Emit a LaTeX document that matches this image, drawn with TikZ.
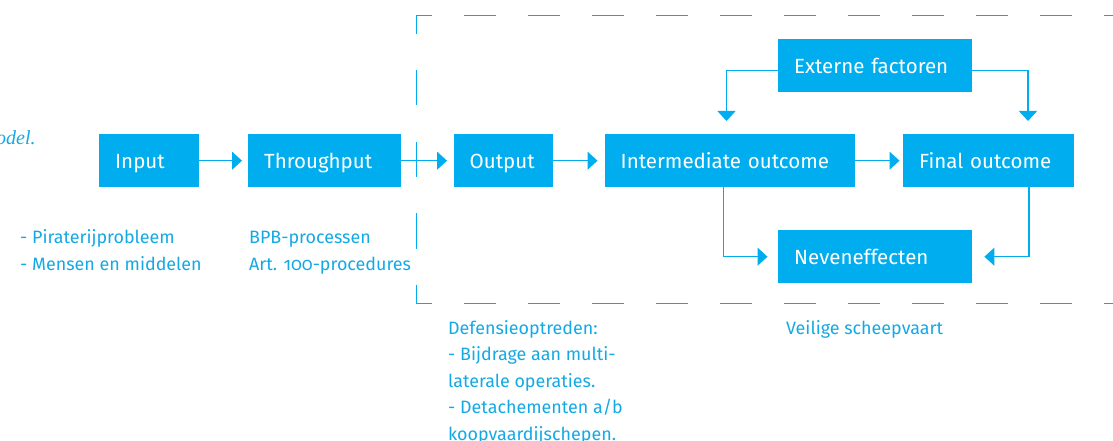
\documentclass[tikz,border=0pt]{standalone}
\usepackage{fontspec}
\setmainfont{Fira Sans}[Numbers=OldStyle]
\newfontfamily\serifit{Liberation Serif}
\usetikzlibrary{arrows.meta}
\definecolor{rocyan}{HTML}{00AEEF}
\definecolor{rotext}{HTML}{14A9E4}
\begin{document}
\begin{tikzpicture}[x=1pt,y=-1pt,
  box/.style={fill=rocyan, text=white, anchor=north west, inner xsep=16pt, inner ysep=0pt,
    minimum height=53pt, align=left, text height=15pt, text depth=0pt,
    font=\fontsize{20.5}{24}\selectfont},
  lbl/.style={text=rotext, anchor=base west, inner sep=0pt, font=\fontsize{17.9}{21}\selectfont},
  arr/.style={draw=rocyan, line width=1.3pt, -{Triangle[length=10pt,width=18pt]}},
  dsh/.style={draw=rocyan, line width=1pt}]
\clip (0,0) rectangle (1113,441);
% dashed frame
\draw[dsh, dash pattern=on 32pt off 32pt, dash phase=16pt] (416,16) -- (1130,16);
\draw[dsh, dash pattern=on 32pt off 32pt, dash phase=16pt] (416,303) -- (1130,303);
\draw[dsh, dash pattern=on 35.5pt off 36pt, dash phase=17.5pt] (416,16) -- (416,303);
% boxes
\node[box, text width=68pt]  (input)   at (99,134)    {Input};
\node[box, text width=121pt] (through) at (248,134)   {Throughput};
\node[box, text width=67pt]  (output)  at (453.5,134) {Output};
\node[box, text width=218pt] (inter)   at (604.5,134) {Intermediate outcome};
\node[box, text width=139pt] (final)   at (903,134)   {Final outcome};
\node[box, text width=162pt] (ext)     at (778,39)    {Externe factoren};
\node[box, text width=162pt] (neven)   at (778,230)   {Neveneffecten};
% arrows
\draw[arr] (input.east) -- ([xshift=-6pt]through.west);
\draw[arr] (through.east) -- ([xshift=-6.5pt]output.west);
\draw[arr] (output.east) -- ([xshift=-7pt]inter.west);
\draw[arr] (inter.east) -- ([xshift=-3.5pt]final.west);
\draw[arr] ([yshift=-4.5pt]ext.west) -| ([xshift=122pt,yshift=13pt]inter.north west);
\draw[arr] ([yshift=-4.5pt]ext.east) -| ([xshift=125pt,yshift=13pt]final.north west);
\draw[arr] ([xshift=119pt]inter.south west) |- ([xshift=-10.5pt]neven.west);
\draw[arr] ([xshift=126pt]final.south west) |- ([xshift=12pt]neven.east);
% labels
\node[lbl] (l1) at (20,243)  {- Piraterijprobleem};
\node[lbl] (l2) at (20,270)  {- Mensen en middelen};
\node[lbl] (l3) at (249,243) {BPB-processen};
\node[lbl] (l4) at (249,270) {Art. 100-procedures};
\node[lbl] (d1) at (448,334)   {Defensieoptreden:};
\node[lbl] (d2) at (448,360.5) {- Bijdrage aan multi-};
\node[lbl] (d3) at (448,387)   {laterale operaties.};
\node[lbl] (d4) at (448,413.5) {- Detachementen a/b};
\node[lbl] (d5) at (448,440)   {koopvaardijschepen.};
\node[lbl] (v1) at (786,334)   {Veilige scheepvaart};
\node[text=rotext, anchor=base west, inner sep=0pt, font=\serifit\itshape\fontsize{20}{24}\selectfont] (cap) at (-4,144) {odel.};
\end{tikzpicture}
\end{document}
